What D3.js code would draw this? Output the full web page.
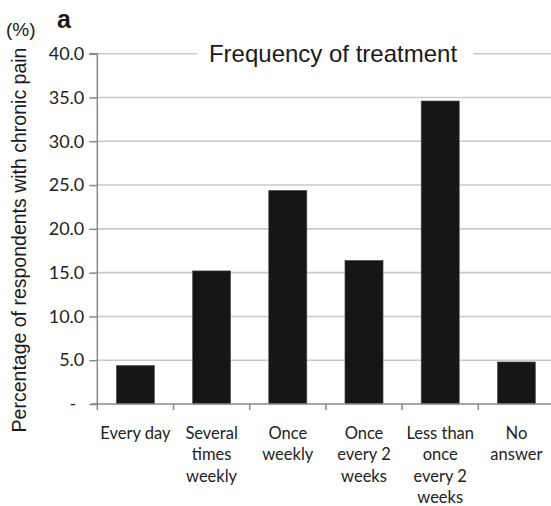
<!DOCTYPE html>
<html><head><meta charset="utf-8">
<script src="https://cdn.jsdelivr.net/npm/d3@7"></script>
<style>body{margin:0;background:#fff}</style>
</head><body>
<svg id="c" width="551" height="506"></svg>
<script>
const categories = [["Every day"],["Several","times","weekly"],["Once","weekly"],["Once","every 2","weeks"],["Less than","once","every 2","weeks"],["No","answer"]];
const values = [4.4, 15.2, 24.4, 16.4, 34.6, 4.8];
const yTicks = [0,5,10,15,20,25,30,35,40];
const yTickLabels = ["-","5.0","10.0","15.0","20.0","25.0","30.0","35.0","40.0"];
const title = "Frequency of treatment";
const yTitle = "Percentage of respondents with chronic pain";

const svg = d3.select("#c");
const keys = categories.map((c,i)=>"c"+i);
const x0 = 97.3, x1 = 554.5, yb = 404, yt = 53.7;
const x = d3.scaleBand().domain(keys).range([x0,x1]).paddingInner(0.5).paddingOuter(0.25);
const y = d3.scaleLinear().domain([0,40]).range([yb,yt]);
const tickFont = "Lato, 'Open Sans', sans-serif";
const arial = "'Liberation Sans', Arial, sans-serif";

// gridlines
svg.append("g").selectAll("line").data(yTicks.filter(d=>d>0)).join("line")
  .attr("x1",x0).attr("x2",551).attr("y1",d=>y(d)).attr("y2",d=>y(d))
  .attr("stroke","#c9c9c9").attr("stroke-width",1.6);

// y axis
const yAxis = d3.axisLeft(y).tickValues(yTicks).tickSize(8).tickPadding(5)
  .tickFormat((d,i)=>yTickLabels[i]);
const gy = svg.append("g").attr("transform",`translate(${x0},0)`).call(yAxis);
gy.select(".domain").attr("stroke","#8a8a8a").attr("stroke-width",1.5).attr("d",`M-8,${yt}H0V${yb}`);
gy.selectAll(".tick line").attr("stroke","#8a8a8a").attr("stroke-width",1.5);
gy.selectAll(".tick text").attr("font-family",tickFont).attr("font-size",18).attr("fill","#222")
  .attr("dx",(d)=>d===0?-8:0);

// bars
svg.append("g").selectAll("rect").data(values).join("rect")
  .attr("x",(d,i)=>x(keys[i])).attr("width",x.bandwidth())
  .attr("y",d=>y(d)).attr("height",d=>yb-y(d))
  .attr("fill","#161616").attr("stroke","#555").attr("stroke-width",0.6);

// x axis baseline
svg.append("line").attr("x1",x0-6).attr("x2",551).attr("y1",yb).attr("y2",yb)
  .attr("stroke","#8a8a8a").attr("stroke-width",1.5);
// x tick marks at band boundaries
const step = x.step();
svg.append("g").selectAll("line").data(d3.range(keys.length+1)).join("line")
  .attr("x1",i=>x0+i*step).attr("x2",i=>x0+i*step).attr("y1",yb).attr("y2",yb+6)
  .attr("stroke","#8a8a8a").attr("stroke-width",1.5);

// x labels
const gl = svg.append("g");
categories.forEach((lines,i)=>{
  const cx = x(keys[i]) + x.bandwidth()/2;
  const t = gl.append("text").attr("text-anchor","middle").attr("font-family",tickFont)
    .attr("font-size",16.5).attr("fill","#222");
  lines.forEach((ln,j)=>t.append("tspan").attr("x",cx).attr("y",438.5+j*21.6).text(ln));
});

// title on top gridline
svg.append("rect").attr("x",197).attr("y",yt-3).attr("width",276).attr("height",6).attr("fill","#fff");
svg.append("text").attr("x",333).attr("y",62).attr("text-anchor","middle")
  .attr("font-family",arial).attr("font-size",24).attr("fill","#1a1a1a").text(title);

// y title
svg.append("text").attr("transform","translate(26,240) rotate(-90)").attr("text-anchor","middle")
  .attr("font-family",arial).attr("font-size",19.5).attr("fill","#1a1a1a").text(yTitle);

// (%) and panel letter
svg.append("text").attr("x",6).attr("y",36).attr("font-family",arial)
  .attr("font-size",19).attr("fill","#1a1a1a").text("(%)");
svg.append("text").attr("x",57).attr("y",28).attr("font-family",arial)
  .attr("font-size",25).attr("font-weight","bold").attr("fill","#1a1a1a").text("a");
</script>
</body></html>
